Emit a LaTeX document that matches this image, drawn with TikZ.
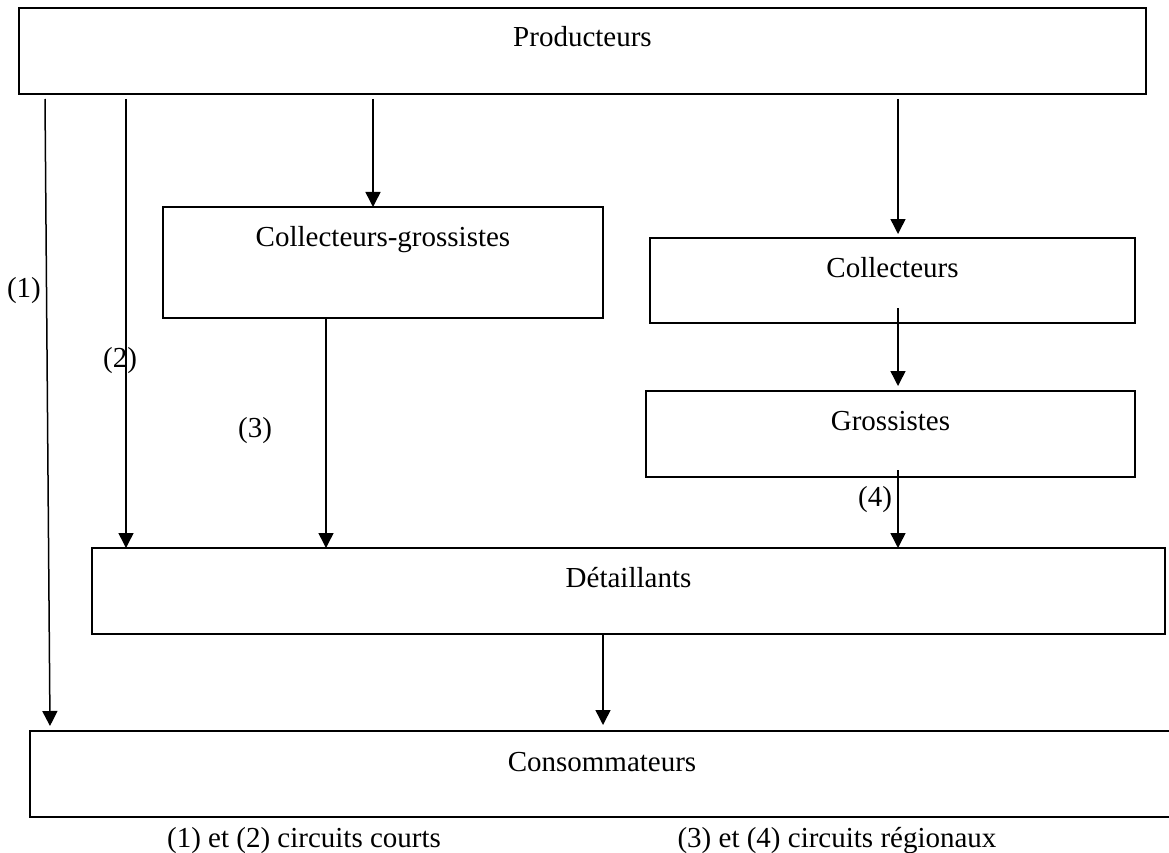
\documentclass[tikz,border=0pt]{standalone}
\usepackage{fontspec}
\setmainfont{Liberation Serif}
\usetikzlibrary{arrows.meta,calc}
\begin{document}
\begin{tikzpicture}[x=1pt,y=-1pt,
  txt/.style={font=\fontsize{29}{35}\selectfont},
  box/.style={txt,draw,line width=1.5pt,rectangle,inner sep=0pt,outer sep=0pt,anchor=north west,text height=39pt},
  lbl/.style={txt,inner sep=0pt,anchor=base},
  arr/.style={line width=1.5pt,-{Triangle[width=15pt,length=15pt]}},
]
\fill[white] (0,0) rectangle (1169,853);
\useasboundingbox (0,0) rectangle (1169,853);

\node[box,minimum width=1127pt,text depth=47pt] (P) at (19,8) {Producteurs};
\node[box,minimum width=440pt,text depth=72pt] (CG) at (163,207) {Collecteurs-grossistes};
\node[box,minimum width=485pt,text depth=46pt] (C) at (650,238) {Collecteurs};
\node[box,minimum width=489pt,text depth=47pt] (G) at (646,391) {Grossistes};
\node[box,minimum width=1073pt,text depth=47pt] (D) at (92,548) {Détaillants};
\node[box,minimum width=1144pt,text depth=46pt,text height=40pt] (K) at (30,731) {Consommateurs};

\draw[arr] ($(P.south west)+(26,5)$) -- ($(K.north west)+(20,-5)$);
\draw[arr] ($(P.south west)+(107,5)$) -- ($(D.north west)+(34,0)$);
\draw[arr] ($(P.south west)+(354,5)$) -- ($(CG.north west)+(210,0)$);
\draw[arr] ($(P.south west)+(879,5)$) -- ($(C.north west)+(248,-4)$);
\draw[arr] ($(C.south west)+(248,-15)$) -- ($(G.north west)+(252,-5)$);
\draw[arr] ($(G.south west)+(252,-7)$) -- ($(D.north west)+(806,0)$);
\draw[arr] ($(CG.south west)+(163,0)$) -- ($(D.north west)+(234,0)$);
\draw[arr] ($(D.south west)+(511,0)$) -- ($(K.north west)+(573,-6)$);

\node[lbl] (l1) at (24,297) {(1)};
\node[lbl] (l2) at (120,367) {(2)};
\node[lbl] (l3) at (255,437) {(3)};
\node[lbl] (l4) at (875,506) {(4)};

\node[lbl] (f1) at (304,847) {(1) et (2) circuits courts};
\node[lbl] (f2) at (837,847) {(3) et (4) circuits régionaux};
\end{tikzpicture}
\end{document}
